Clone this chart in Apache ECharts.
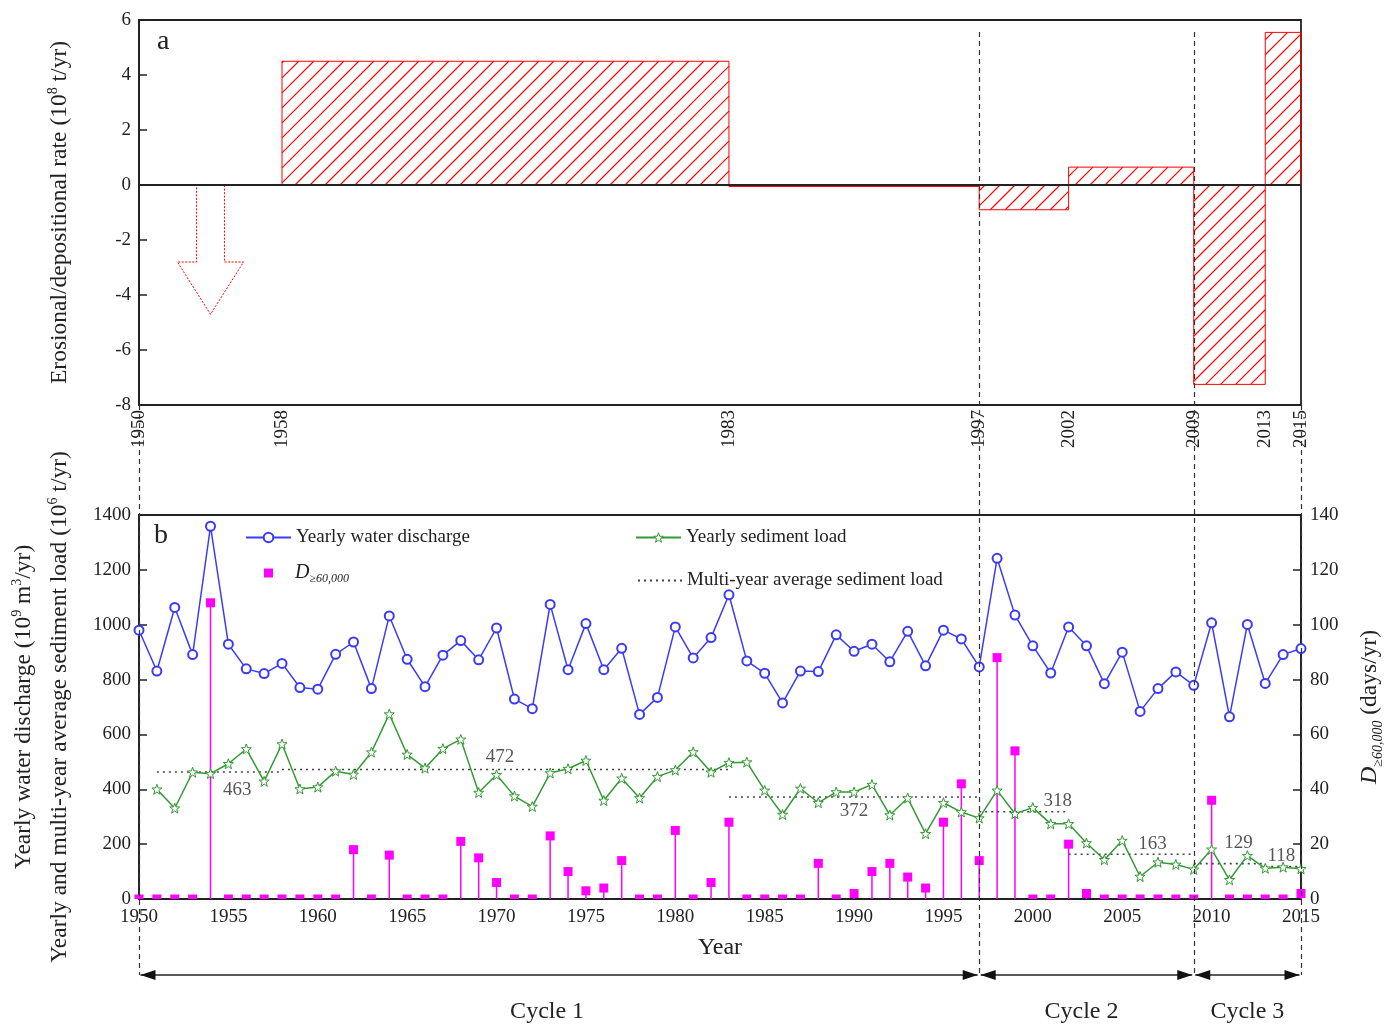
<!DOCTYPE html>
<html>
<head>
<meta charset="utf-8">
<script src="https://cdn.jsdelivr.net/npm/echarts@6.0.0/dist/echarts.min.js"></script>
<style>
html, body { margin: 0; padding: 0; background: #fff; }
#chart { width: 1395px; height: 1026px; }
</style>
</head>
<body>
<div id="chart"></div>
<script>
var FONT = "'Liberation Serif', 'Times New Roman', serif";
var TXT = '#222';
var BLUE = '#3b3bf5';
var GREEN = '#339933';
var PINK = '#ff00ff';
var RED = '#ff0000';

// ---- data ----
var firstYear = 1950;
var discharge = [980, 831, 1063, 891, 1359, 929, 839, 822, 859, 771,
    765, 892, 937, 767, 1032, 874, 774, 889, 942, 872,
    988, 729, 694, 1074, 836, 1004, 836, 914, 673, 735,
    992, 879, 953, 1109, 868, 823, 715, 831, 829, 963,
    903, 929, 865, 976, 850, 980, 948, 846, 1242, 1035,
    923, 824, 992, 923, 785, 900, 684, 767, 828, 779,
    1007, 664, 1001, 786, 891, 913];
var sediment = [null, 400, 331, 462, 457, 493, 547, 429, 565, 401,
    408, 466, 454, 535, 674, 527, 477, 548, 582, 388,
    453, 375, 337, 459, 475, 505, 359, 440, 368, 446,
    470, 536, 462, 497, 499, 396, 308, 403, 351, 390,
    390, 417, 306, 368, 238, 351, 317, 295, 396, 311,
    333, 274, 274, 204, 143, 213, 82, 134, 126, 108,
    181, 70, 158, 112, 116, 110];
var dDays = [0, 0, 0, 0, 108, 0, 0, 0, 0, 0,
    0, 0, 18, 0, 16, 0, 0, 0, 21, 15,
    6, 0, 0, 23, 10, 3, 4, 14, 0, 0,
    25, 0, 6, 28, 0, 0, 0, 0, 13, 0,
    2, 10, 13, 8, 4, 28, 42, 14, 88, 54,
    0, 0, 20, 2, 0, 0, 0, 0, 0, 0,
    36, 0, 0, 0, 0, 2];

var periodStart = [1958, 1983, 1997, 2002, 2009, 2013];
var periodEnd = [1983, 1997, 2002, 2009, 2013, 2015];
var periodRate = [4.5, -0.05, -0.9, 0.65, -7.25, 5.55];

var avgStart = [1951, 1958, 1983, 1997, 2002, 2009, 2013];
var avgEnd = [1958, 1983, 1997, 2002, 2009, 2013, 2015];
var avgLoad = [463, 472, 372, 318, 163, 129, 118];

var topTicks = [1950, 1958, 1983, 1997, 2002, 2009, 2013, 2015];
var cycleBounds = [1950, 1997, 2009, 2015];
var cycleNames = ['Cycle 1', 'Cycle 2', 'Cycle 3'];

// off-scale erosion before 1958, drawn as a hollow arrow
var arrowYear = 1954, arrowNeck = -2.8, arrowTip = -4.7;

// where the average numbers sit
var avgLabelYear = [1955.5, 1970.2, 1990, 2001.4, 2006.7, 2011.5, 2013.9];
var avgLabelSide = ['bottom', 'top', 'bottom', 'top', 'top', 'top', 'top'];
var avgLabelGap = [9, 3, 5, 1, 1, 11, 1];

// ---- layout ----
var L = 139, R = 94, T1 = 20, H1 = 385, T2 = 515, H2 = 384;
var HATCH = 15;
var cycleLabelShift = [-12, -5, 0];

var yearOf = function (i) { return firstYear + i; };
var plain = function (v) { return String(v); };
var dischargeData = discharge.map(function (v, i) { return [yearOf(i), v]; });
var sedimentData = [];
sediment.forEach(function (v, i) { if (v !== null) sedimentData.push([yearOf(i), v]); });
var dData = dDays.map(function (v, i) { return [yearOf(i), v]; });
var periodData = periodStart.map(function (s, i) { return [s, periodEnd[i], periodRate[i]]; });

var STAR = 'path://M12,1 L14.9,8.6 L23,8.6 L16.5,13.6 L18.9,21.5 L12,16.8 L5.1,21.5 L7.5,13.6 L1,8.6 L9.1,8.6 Z';
var AVG_NAME = 'Multi-year average sediment load';
var D_NAME = 'D≥60,000';

// "/" hatch lines clipped to a rectangle
function hatchLines(x0, y0, x1, y1) {
    var out = [];
    var cStart = Math.ceil((x0 + y0) / HATCH) * HATCH;
    for (var c = cStart; c <= x1 + y1; c += HATCH) {
        var xa = Math.max(x0, c - y1), xb = Math.min(x1, c - y0);
        if (xb - xa < 0.5) continue;
        out.push({
            type: 'line',
            shape: { x1: xa, y1: c - xa, x2: xb, y2: c - xb },
            style: { stroke: RED, lineWidth: 1.1 }
        });
    }
    return out;
}

var series = [{
    type: 'custom',
    name: 'rate',
    xAxisIndex: 0, yAxisIndex: 0,
    data: periodData,
    encode: { x: [0, 1], y: 2 },
    renderItem: function (params, api) {
        var p0 = api.coord([api.value(0), api.value(2)]);
        var p1 = api.coord([api.value(1), 0]);
        var x0 = p0[0], x1 = p1[0];
        var y0 = Math.min(p0[1], p1[1]), y1 = Math.max(p0[1], p1[1]);
        var kids = hatchLines(x0, y0, x1, y1);
        kids.push({
            type: 'rect',
            shape: { x: x0, y: y0, width: x1 - x0, height: y1 - y0 },
            style: { fill: y1 - y0 < 3 ? RED : 'none', stroke: RED, lineWidth: 1 }
        });
        return { type: 'group', children: kids };
    },
    markLine: {
        silent: true, symbol: 'none', label: { show: false },
        lineStyle: { color: TXT, type: 'solid', width: 1.8 },
        data: [{ yAxis: 0 }]
    },
    z: 2
}, {
    type: 'custom',
    name: 'arrow',
    xAxisIndex: 0, yAxisIndex: 0,
    data: [[arrowYear, arrowTip, arrowNeck]],
    renderItem: function (params, api) {
        var x = api.value(0), tip = api.value(1), neck = api.value(2);
        var pts = [[x - 0.78, 0], [x + 0.78, 0], [x + 0.78, neck], [x + 1.85, neck],
            [x, tip], [x - 1.85, neck], [x - 0.78, neck]].map(function (p) { return api.coord(p); });
        return {
            type: 'polygon',
            shape: { points: pts },
            style: { fill: 'none', stroke: RED, lineWidth: 1, lineDash: [2, 1.5] }
        };
    }
}, {
    type: 'custom',
    name: D_NAME,
    xAxisIndex: 1, yAxisIndex: 2,
    data: dData,
    encode: { x: 0, y: 1 },
    itemStyle: { color: PINK },
    renderItem: function (params, api) {
        var top = api.coord([api.value(0), api.value(1)]);
        var base = api.coord([api.value(0), 0]);
        var s = 4.5;
        var kids = [];
        if (base[1] - top[1] > 1) {
            kids.push({ type: 'line', shape: { x1: top[0], y1: base[1], x2: top[0], y2: top[1] },
                style: { stroke: PINK, lineWidth: 1.5 } });
        }
        kids.push({ type: 'rect', shape: { x: top[0] - s, y: top[1] - s, width: 2 * s, height: Math.min(2 * s, base[1] - top[1] + s) },
            style: { fill: PINK } });
        return { type: 'group', children: kids };
    },
    z: 3
}, {
    type: 'line',
    name: 'Yearly water discharge',
    xAxisIndex: 1, yAxisIndex: 1,
    data: dischargeData,
    symbol: 'emptyCircle', symbolSize: 9,
    color: BLUE,
    lineStyle: { color: BLUE, width: 1.5 },
    itemStyle: { color: BLUE, borderWidth: 1.3 },
    z: 5
}, {
    type: 'line',
    name: 'Yearly sediment load',
    xAxisIndex: 1, yAxisIndex: 1,
    data: sedimentData,
    symbol: STAR, symbolSize: 10,
    color: GREEN,
    lineStyle: { color: GREEN, width: 1.5 },
    itemStyle: { color: '#fff', borderColor: GREEN, borderWidth: 1 },
    z: 5
}];

avgLoad.forEach(function (v, i) {
    series.push({
        type: 'line',
        name: AVG_NAME,
        xAxisIndex: 1, yAxisIndex: 1,
        data: [[avgStart[i], v], [avgEnd[i], v]],
        symbol: 'none',
        color: '#444',
        lineStyle: { color: '#444', width: 1.6, type: [2, 4] },
        z: 4
    });
});

series.push({
    type: 'scatter',
    name: 'avgLabels',
    xAxisIndex: 1, yAxisIndex: 1,
    symbolSize: 0,
    data: avgLoad.map(function (v, i) {
        return {
            value: [avgLabelYear[i], v],
            label: { position: avgLabelSide[i], distance: avgLabelGap[i] }
        };
    }),
    label: {
        show: true, formatter: function (p) { return p.value[1]; },
        fontFamily: FONT, fontSize: 19, color: '#2a2a2a'
    },
    z: 6
});

var axisTxt = { fontFamily: FONT, fontSize: 19, color: TXT, formatter: plain };
var axisLine = { show: true, lineStyle: { color: TXT, width: 1.8 } };
var tickIn = { show: true, inside: true, length: 8, lineStyle: { color: TXT, width: 1.5 } };
var legendTxt = { fontFamily: FONT, fontSize: 19, color: TXT };

var option = {
    backgroundColor: '#fff',
    animation: false,
    textStyle: { fontFamily: FONT },
    grid: [
        { left: L, right: R, top: T1, height: H1, show: true, borderColor: TXT, borderWidth: 1.8, backgroundColor: 'transparent', outerBoundsMode: 'none' },
        { left: L, right: R, top: T2, height: H2, show: true, borderColor: TXT, borderWidth: 1.8, backgroundColor: 'transparent', outerBoundsMode: 'none' }
    ],
    xAxis: [{
        gridIndex: 0, type: 'value', min: 1950, max: 2015,
        axisLine: { show: false }, axisTick: { show: false }, splitLine: { show: false },
        axisLabel: Object.assign({
            customValues: topTicks, rotate: 90, margin: 5, showMinLabel: true, showMaxLabel: true
        }, axisTxt)
    }, {
        gridIndex: 1, type: 'value', min: 1950, max: 2015, interval: 5,
        axisLine: axisLine, axisTick: { show: false }, splitLine: { show: false },
        axisLabel: Object.assign({ margin: 9, showMinLabel: true, showMaxLabel: true }, axisTxt),
        name: 'Year', nameLocation: 'middle', nameGap: 37,
        nameTextStyle: { fontFamily: FONT, fontSize: 24, color: TXT }
    }],
    yAxis: [{
        gridIndex: 0, type: 'value', min: -8, max: 6, interval: 2,
        axisLine: axisLine, axisTick: tickIn, splitLine: { show: false },
        axisLabel: Object.assign({ margin: 8 }, axisTxt),
        name: '{t|Erosional/depositional rate (10}{sup|8}{t| t/yr)}',
        nameLocation: 'middle', nameGap: 65, nameRotate: 90,
        nameTextStyle: {
            rich: {
                t: { fontFamily: FONT, fontSize: 23.5, color: TXT, lineHeight: 28 },
                sup: { fontFamily: FONT, fontSize: 14, color: TXT, verticalAlign: 'top' }
            }
        }
    }, {
        gridIndex: 1, type: 'value', min: 0, max: 1400, interval: 200, position: 'left',
        axisLine: axisLine, axisTick: tickIn, splitLine: { show: false },
        axisLabel: Object.assign({ margin: 8 }, axisTxt),
        name: '{t|Yearly water discharge (10}{sup|9}{t| m}{sup|3}{t|/yr)}\n{t|Yearly and multi-year average sediment load (10}{sup|6}{t| t/yr)}',
        nameLocation: 'middle', nameGap: 61, nameRotate: 90,
        nameTextStyle: {
            rich: {
                t: { fontFamily: FONT, fontSize: 23.5, color: TXT, lineHeight: 36 },
                sup: { fontFamily: FONT, fontSize: 14, color: TXT, verticalAlign: 'top', padding: [4, 0, 0, 0] }
            }
        }
    }, {
        gridIndex: 1, type: 'value', min: 0, max: 140, interval: 20, position: 'right',
        axisLine: axisLine, axisTick: tickIn, splitLine: { show: false },
        axisLabel: Object.assign({ margin: 9 }, axisTxt),
        name: '{i|D}{sub|≥60,000}{t| (days/yr)}',
        nameLocation: 'middle', nameGap: 54, nameRotate: 90,
        nameTextStyle: {
            rich: {
                i: { fontFamily: FONT, fontSize: 24, fontStyle: 'italic', color: TXT, lineHeight: 30 },
                t: { fontFamily: FONT, fontSize: 23.5, color: TXT, lineHeight: 30 },
                sub: { fontFamily: FONT, fontSize: 14, fontStyle: 'italic', color: TXT, lineHeight: 19, verticalAlign: 'bottom' }
            }
        }
    }],
    legend: [{
        data: ['Yearly water discharge'], left: 245, top: 528, padding: 0,
        itemWidth: 45, itemHeight: 12, selectedMode: false, textStyle: legendTxt
    }, {
        data: [{ name: 'Yearly sediment load', itemStyle: { color: '#fff', borderColor: GREEN, borderWidth: 1 } }],
        left: 635, top: 528, padding: 0,
        itemWidth: 45, itemHeight: 12, selectedMode: false, textStyle: legendTxt
    }, {
        data: [{ name: D_NAME, icon: 'rect', itemStyle: { color: PINK } }], left: 264, top: 563, padding: 0,
        itemWidth: 9, itemHeight: 9, selectedMode: false,
        formatter: function () { return '{g|}{i|D}{s|≥60,000}'; },
        textStyle: {
            rich: {
                g: { width: 17 },
                i: { fontFamily: FONT, fontSize: 20, fontStyle: 'italic', color: TXT, lineHeight: 24 },
                s: { fontFamily: FONT, fontSize: 12, fontStyle: 'italic', color: TXT, lineHeight: 14, verticalAlign: 'bottom' }
            }
        }
    }, {
        data: [{ name: AVG_NAME, itemStyle: { opacity: 0 } }], left: 637, top: 571, padding: 0,
        itemWidth: 44, itemHeight: 12, selectedMode: false, textStyle: legendTxt
    }],
    series: series
};

var chart = echarts.init(document.getElementById('chart'), null, { renderer: 'canvas' });
chart.setOption(option);

// cycle boundaries, arrows and panel letters
var px = function (yr) { return chart.convertToPixel({ xAxisIndex: 1 }, yr); };
var arrowY = T2 + H2 + 76;
var cycleLabelY = T2 + H2 + 113;
var graphics = [];
cycleBounds.forEach(function (yr, i) {
    var x = Math.round(px(yr)) + 0.5;
    var inner = i > 0 && i < cycleBounds.length - 1;
    graphics.push({
        type: 'line', silent: true, z: 50,
        shape: { x1: x, y1: inner ? T1 + 12 : T1 + H1, x2: x, y2: arrowY },
        style: { stroke: '#333', lineWidth: 1.2, lineDash: [5, 4] }
    });
});
cycleNames.forEach(function (name, i) {
    var x1 = px(cycleBounds[i]) + 1.5, x2 = px(cycleBounds[i + 1]) - 1.5;
    graphics.push({ type: 'line', silent: true, z: 50,
        shape: { x1: x1, y1: arrowY, x2: x2, y2: arrowY },
        style: { stroke: TXT, lineWidth: 1.5 } });
    graphics.push({ type: 'polygon', silent: true, z: 50,
        shape: { points: [[x1, arrowY], [x1 + 15, arrowY - 5], [x1 + 15, arrowY + 5]] },
        style: { fill: '#111' } });
    graphics.push({ type: 'polygon', silent: true, z: 50,
        shape: { points: [[x2, arrowY], [x2 - 15, arrowY - 5], [x2 - 15, arrowY + 5]] },
        style: { fill: '#111' } });
    graphics.push({ type: 'text', silent: true, z: 50,
        x: (x1 + x2) / 2 + cycleLabelShift[i], y: cycleLabelY,
        style: { text: name, fontFamily: FONT, fontSize: 24, fill: TXT, align: 'center', verticalAlign: 'middle' } });
});
graphics.push({ type: 'text', silent: true, left: L + 18, top: T1 + 8,
    style: { text: 'a', fontFamily: FONT, fontSize: 28, fill: TXT } });
graphics.push({ type: 'text', silent: true, left: L + 15, top: T2 + 7,
    style: { text: 'b', fontFamily: FONT, fontSize: 28, fill: TXT } });
chart.setOption({ graphic: graphics });
</script>
</body>
</html>
